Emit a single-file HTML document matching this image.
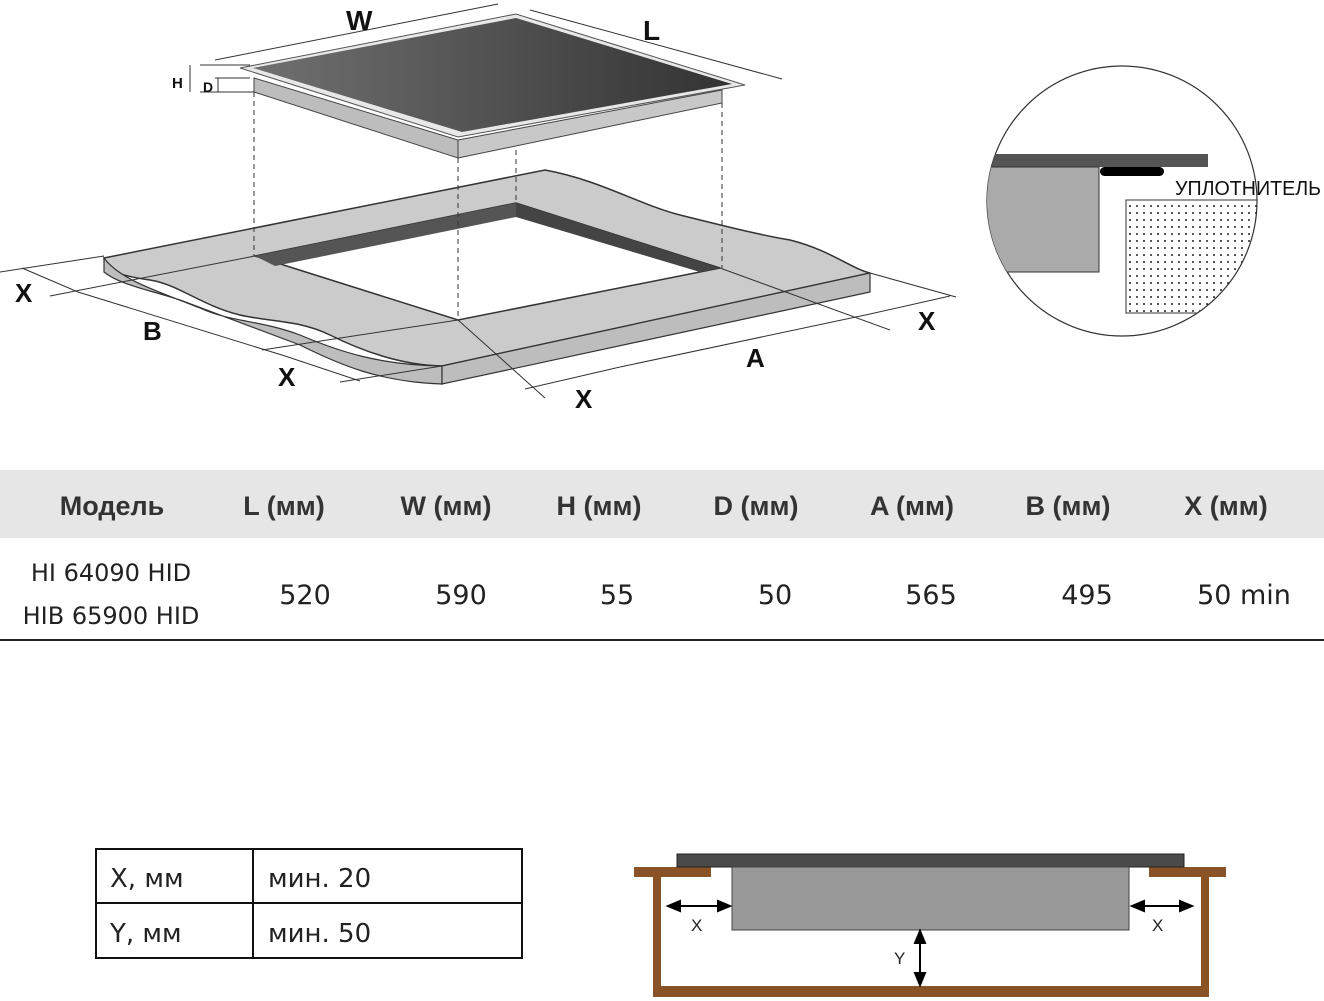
<!DOCTYPE html>
<html><head><meta charset="utf-8"><style>
body{margin:0;width:1324px;height:1001px;background:#fff;overflow:hidden;font-family:"Liberation Sans","Noto Sans CJK SC",sans-serif;}
svg{position:absolute;left:0;top:0}
</style></head><body>
<svg width="1324" height="1001" viewBox="0 0 1324 1001">
<defs>
<linearGradient id="hg" x1="0" y1="0" x2="1" y2="0"><stop offset="0" stop-color="#707070"/><stop offset="1" stop-color="#333"/></linearGradient>
<pattern id="dots" width="7" height="7" patternUnits="userSpaceOnUse"><circle cx="3" cy="3" r="1" fill="#222"/></pattern>
<clipPath id="cc"><circle cx="1122" cy="201" r="135"/></clipPath>
</defs>
<!-- countertop -->
<path d="M104,258 L545,170 C600,180 640,205 680,215 C720,225 760,235 790,240 C830,250 850,268 870,273 L442,366 C400,365 360,350 330,335 C300,320 270,322 240,315 C200,305 180,285 150,280 C120,276 104,270 104,258 Z" fill="#cbcbcb" stroke="#333" stroke-width="1.5"/>
<path d="M104,258 L104,272 C120,285 150,290 180,300 C220,315 260,330 300,345 C340,365 380,382 442,384 L442,366 C380,365 340,352 300,335 C260,320 230,322 200,308 C160,292 120,280 104,258Z" fill="#bdbdbd" stroke="#333" stroke-width="1.2"/>
<path d="M442,366 L870,273 L870,292 L442,384 Z" fill="#bdbdbd" stroke="#333" stroke-width="1.2"/>
<!-- hole -->
<polygon points="255,256 516,203 720,268 458,320" fill="#fff" stroke="#333" stroke-width="1.5"/>
<polygon points="255,256 516,203 516,217 275,266" fill="#555"/>
<polygon points="516,203 720,268 700,272 516,217" fill="#444"/>
<!-- dimension lines on counter -->
<g stroke="#333" stroke-width="1" fill="none">
<line x1="0" y1="272" x2="104" y2="256"/><line x1="50" y1="296" x2="255" y2="256"/>
<line x1="22" y1="268" x2="78" y2="292"/>
<line x1="78" y1="292" x2="285" y2="356"/><line x1="262" y1="350" x2="458" y2="320"/>
<line x1="285" y1="356" x2="360" y2="381"/><line x1="340" y1="382" x2="442" y2="366"/>
<line x1="458" y1="320" x2="545" y2="398"/><line x1="720" y1="268" x2="890" y2="330"/>
<line x1="870" y1="273" x2="956" y2="297"/>
<line x1="525" y1="389" x2="620" y2="367"/><line x1="620" y1="367" x2="870" y2="314"/>
<line x1="870" y1="314" x2="950" y2="296"/>
</g>
<!-- dashed projections -->
<g stroke="#333" stroke-width="1" stroke-dasharray="5,4">
<line x1="254" y1="92" x2="254" y2="256"/><line x1="458" y1="158" x2="458" y2="320"/>
<line x1="516" y1="150" x2="516" y2="203"/><line x1="722" y1="103" x2="722" y2="268"/>
</g>
<!-- hob -->
<polygon points="254,78 458,140 458,158 254,92" fill="#bdbdbd" stroke="#444"/>
<polygon points="458,140 722,90 722,103 458,158" fill="#c8c8c8" stroke="#444"/>
<polygon points="240,68 516,14 745,85 458,137" fill="#e8e8e8" stroke="#555"/>
<polygon points="253,68 516,18 732,84 462,132" fill="url(#hg)"/>
<!-- hob dims -->
<g stroke="#333" stroke-width="1">
<line x1="215" y1="60" x2="498" y2="4"/><line x1="530" y1="10" x2="782" y2="79"/>
<line x1="200" y1="65" x2="250" y2="65"/><line x1="200" y1="92" x2="254" y2="92"/>
<line x1="215" y1="78" x2="250" y2="78"/><line x1="190" y1="65" x2="190" y2="92"/><line x1="218" y1="78" x2="218" y2="92"/>
</g>
<g font-family="Liberation Sans,sans-serif" font-weight="bold" fill="#111">
<text x="346" y="30" font-size="28">W</text>
<text x="643" y="40" font-size="28">L</text>
<text x="172" y="88" font-size="15">H</text>
<text x="203" y="92" font-size="14">D</text>
<text x="15" y="302" font-size="26">X</text>
<text x="143" y="340" font-size="26">B</text>
<text x="278" y="386" font-size="26">X</text>
<text x="575" y="408" font-size="26">X</text>
<text x="746" y="367" font-size="26">A</text>
<text x="918" y="330" font-size="26">X</text>
</g>
<!-- circle detail -->
<circle cx="1122" cy="201" r="135" fill="#fff" stroke="#333" stroke-width="1.2"/>
<g clip-path="url(#cc)">
<rect x="980" y="154" width="228" height="13" fill="#555"/>
<rect x="980" y="167" width="119" height="105" fill="#aaa" stroke="#333"/>
<rect x="1126" y="200" width="140" height="113" fill="url(#dots)" stroke="#333"/>
</g>
<rect x="1100" y="167" width="64" height="9" rx="4.5" fill="#000"/>
<text x="1175" y="195" font-size="20" fill="#111" textLength="146" lengthAdjust="spacingAndGlyphs">УПЛОТНИТЕЛЬ</text>
<!-- table -->
<rect x="0" y="470" width="1324" height="68" fill="#e6e6e6"/>
<line x1="0" y1="640" x2="1324" y2="640" stroke="#222" stroke-width="2"/>
<g font-size="27" fill="#333" font-family="Liberation Sans,sans-serif" font-weight="bold" text-anchor="middle">
<text x="112" y="515">Модель</text><text x="284" y="515">L (мм)</text><text x="446" y="515">W (мм)</text>
<text x="599" y="515">H (мм)</text><text x="756" y="515">D (мм)</text><text x="912" y="515">A (мм)</text>
<text x="1068" y="515">B (мм)</text><text x="1226" y="515">X (мм)</text>
</g>
<g font-size="24" fill="#222" font-family="DejaVu Sans,sans-serif" text-anchor="middle">
<text x="111" y="581">HI 64090 HID</text><text x="111" y="624">HIB 65900 HID</text>
<text x="305" y="604" font-size="27">520</text><text x="461" y="604" font-size="27">590</text><text x="617" y="604" font-size="27">55</text>
<text x="775" y="604" font-size="27">50</text><text x="931" y="604" font-size="27">565</text><text x="1087" y="604" font-size="27">495</text><text x="1244" y="604" font-size="27">50 min</text>
</g>
<!-- small table -->
<g stroke="#111" stroke-width="2" fill="none">
<rect x="96" y="849" width="426" height="109"/><line x1="96" y1="903" x2="522" y2="903"/><line x1="253" y1="849" x2="253" y2="958"/>
</g>
<g font-size="26" fill="#222" font-family="DejaVu Sans,sans-serif">
<text x="110" y="887">X, мм</text><text x="268" y="887">мин. 20</text>
<text x="110" y="942">Y, мм</text><text x="268" y="942">мин. 50</text>
</g>
<!-- section -->
<g fill="#8a5326">
<rect x="634" y="867" width="77" height="10"/><rect x="1149" y="867" width="77" height="10"/>
<rect x="653" y="867" width="8" height="130"/><rect x="1201" y="867" width="8" height="130"/>
<rect x="653" y="986" width="556" height="11"/>
</g>
<rect x="677" y="854" width="507" height="13" fill="#4a4a4a" stroke="#222"/>
<rect x="732" y="867" width="397" height="63" fill="#999" stroke="#444"/>
<g stroke="#000" stroke-width="2" fill="#000">
<line x1="672" y1="906" x2="726" y2="906"/><polygon points="668,906 680,901 680,911"/><polygon points="730,906 718,901 718,911"/>
<line x1="1136" y1="906" x2="1188" y2="906"/><polygon points="1132,906 1144,901 1144,911"/><polygon points="1192,906 1180,901 1180,911"/>
<line x1="920" y1="934" x2="920" y2="982"/><polygon points="920,931 915,943 925,943"/><polygon points="920,985 915,973 925,973"/>
</g>
<g font-size="17" fill="#222"><text x="691" y="931">X</text><text x="1152" y="931">X</text><text x="894" y="964">Y</text></g>
</svg>
</body></html>
